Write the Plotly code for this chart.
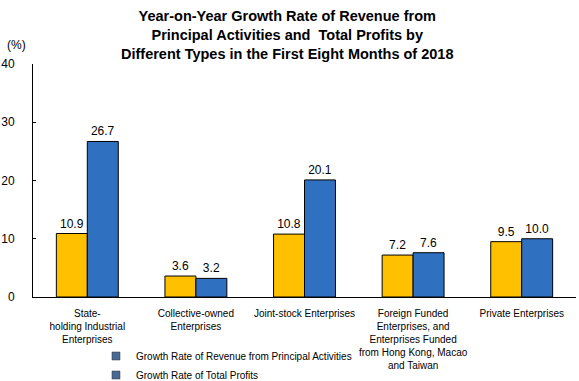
import plotly.graph_objects as go

categories = ["State-<br>holding Industrial<br>Enterprises",
              "Collective-owned<br>Enterprises",
              "Joint-stock Enterprises",
              "Foreign Funded<br>Enterprises, and<br>Enterprises Funded<br>from Hong Kong, Macao<br>and Taiwan",
              "Private Enterprises"]
revenue = [10.9, 3.6, 10.8, 7.2, 9.5]
profits = [26.7, 3.2, 20.1, 7.6, 10.0]
series_names = ["Growth Rate of Revenue from Principal Activities", "Growth Rate of Total Profits"]
y_ticks = [0, 10, 20, 30, 40]
title_text = ("<b>Year-on-Year Growth Rate of Revenue from<br>Principal Activities and  Total Profits by<br>"
              "Different Types in the First Eight Months of 2018</b>")

YELLOW = "#FFC000"
BLUE = "#3070C0"
FONT = "Liberation Sans, Arial, sans-serif"

fig = go.Figure()
for vals, col in [(revenue, YELLOW), (profits, BLUE)]:
    fig.add_trace(go.Bar(
        x=categories, y=vals, marker=dict(color=col, line=dict(color="black", width=1)),
        text=[f"{v:.1f}" for v in vals], textposition="outside", constraintext="none",
        textfont=dict(size=12, color="black", family=FONT),
        cliponaxis=False, showlegend=False))
# legend entries (both shown with blue markers as in the reference)
for name in series_names:
    fig.add_trace(go.Scatter(x=[None], y=[None], name=name, mode="markers",
                             marker=dict(symbol="square", size=8, color="#4A6A95",
                                         line=dict(color="#333", width=0.5)),
                             showlegend=True))

fig.update_layout(
    width=579, height=381,
    margin=dict(l=33, r=3, t=64, b=84, autoexpand=False),
    paper_bgcolor="white", plot_bgcolor="white",
    barmode="group", bargap=0.43, bargroupgap=0.0,
    font=dict(family=FONT, size=10, color="black"),
    legend=dict(x=0.116, y=-0.191, xanchor="left", yanchor="top", orientation="v",
                bgcolor="rgba(0,0,0,0)", font=dict(size=10, family=FONT),
                itemwidth=30, tracegroupgap=0),
    xaxis=dict(showline=True, linecolor="black", linewidth=1, ticks="", tickfont=dict(size=10),
               showgrid=False, automargin=False, ticklabelstandoff=7),
    yaxis=dict(range=[0, 40], tickvals=y_ticks, showline=True, linecolor="black", linewidth=1,
               ticks="inside", ticklen=3, tickcolor="black", showgrid=False, zeroline=False,
               tickfont=dict(size=12), automargin=False, ticklabelstandoff=15),
    annotations=[
        dict(text=title_text, x=0.4678, y=1.1245, xref="paper", yref="paper",
             xanchor="center", yanchor="middle", showarrow=False,
             font=dict(size=14.5, family=FONT, color="black")),
        dict(text="(%)", x=-0.0516, y=1.0815, xref="paper", yref="paper",
             xanchor="left", yanchor="middle", showarrow=False,
             font=dict(size=12, family=FONT)),
    ],
)
fig.write_html("out.html", config={"displayModeBar": False},
               post_script="document.body.style.margin='0';")
